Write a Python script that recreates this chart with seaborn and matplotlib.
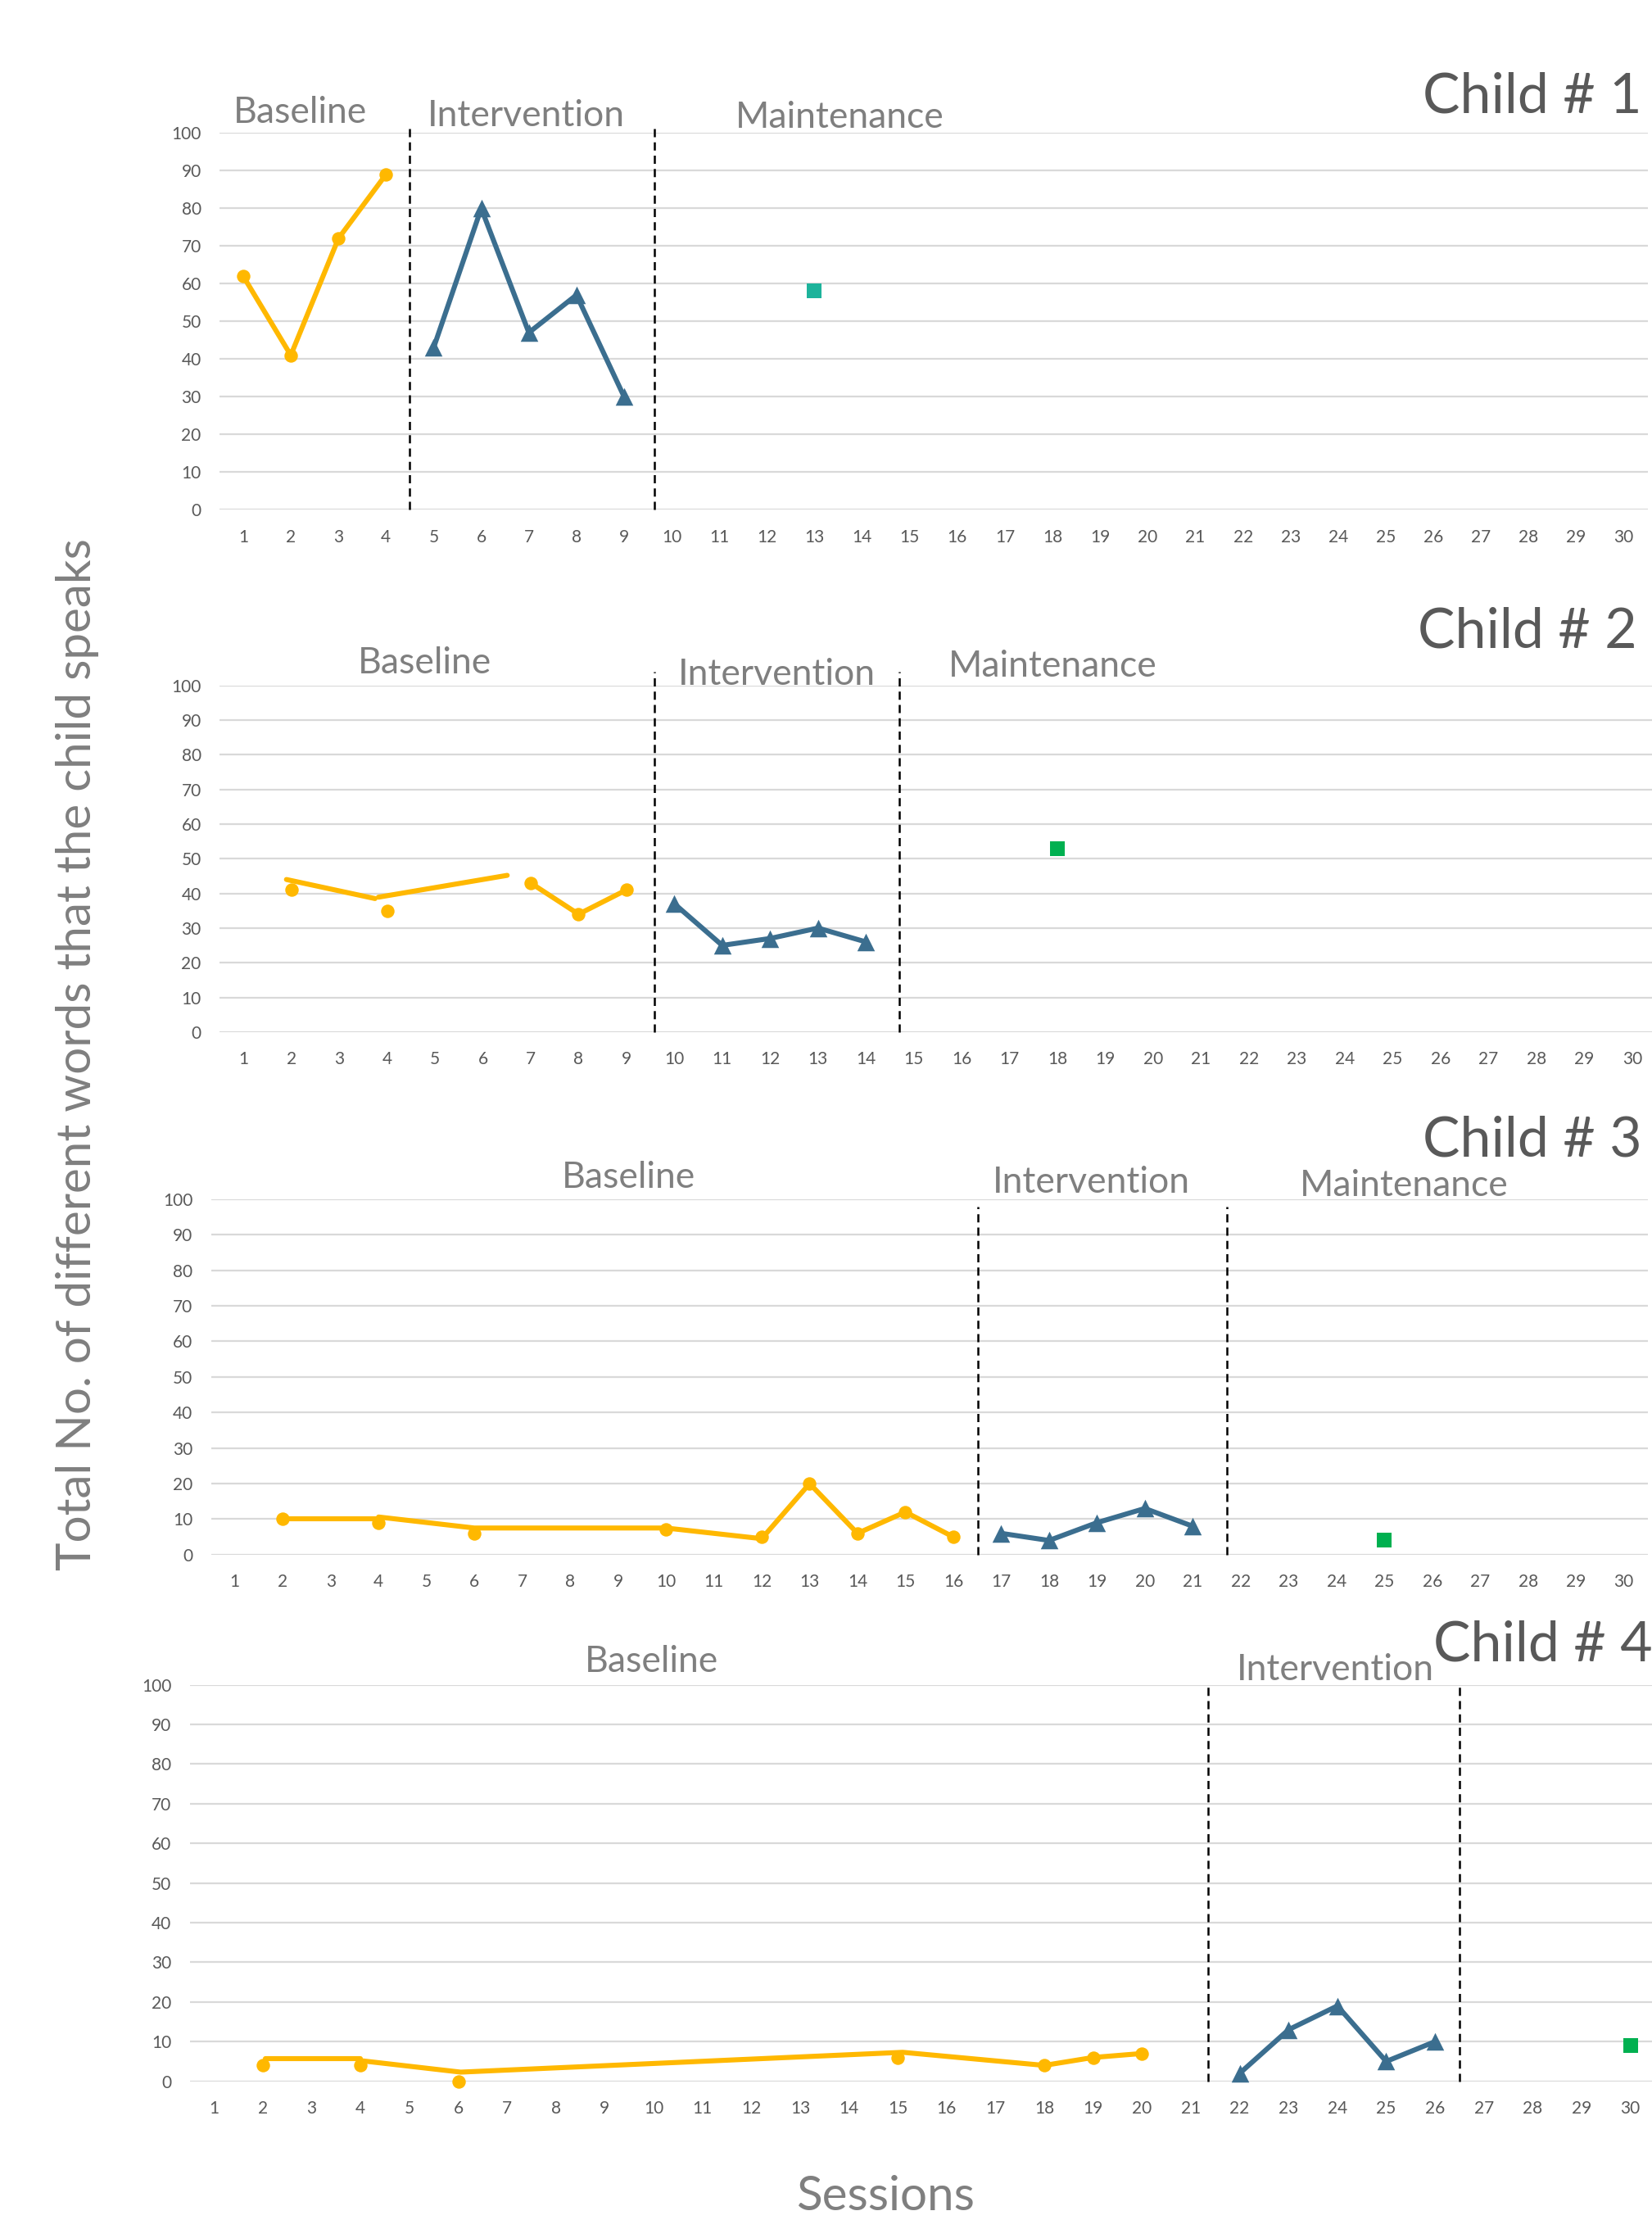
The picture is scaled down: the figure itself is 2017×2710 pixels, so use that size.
import matplotlib
matplotlib.use("Agg")
import matplotlib.pyplot as plt
import seaborn as sns
import pandas as pd

# ---------------------------------------------------------------- data
sessions = list(range(1, 31))
y_ticks = list(range(0, 101, 10))

children = ["Child # 1", "Child # 2", "Child # 3", "Child # 4"]

# Child 1
c1_base_x = [1, 2, 3, 4]
c1_base_y = [62, 41, 72, 89]
c1_base_line_x = [[1, 2, 3, 4]]
c1_base_line_y = [[62, 41, 72, 89]]
c1_int_x = [5, 6, 7, 8, 9]
c1_int_y = [43, 80, 47, 57, 30]
c1_maint_x = [13]
c1_maint_y = [58]
c1_phase_changes = [4.5, 9.63]

# Child 2
c2_base_x = [2, 4, 7, 8, 9]
c2_base_y = [41, 35, 43, 34, 41]
c2_base_line_x = [[1.9, 3.75], [3.82, 6.51], [7, 8, 9]]
c2_base_line_y = [[44, 38.5], [38.9, 45.2], [43, 34, 41]]
c2_int_x = [10, 11, 12, 13, 14]
c2_int_y = [37, 25, 27, 30, 26]
c2_maint_x = [18]
c2_maint_y = [53]
c2_phase_changes = [9.58, 14.7]

# Child 3
c3_base_x = [2, 4, 6, 10, 12, 13, 14, 15, 16]
c3_base_y = [10, 9, 6, 7, 5, 20, 6, 12, 5]
c3_base_line_x = [[2, 4], [4, 6, 10, 12, 13, 14, 15, 16]]
c3_base_line_y = [[10, 10], [10.6, 7.5, 7.5, 4.5, 20, 6, 12, 5]]
c3_int_x = [17, 18, 19, 20, 21]
c3_int_y = [6, 4, 9, 13, 8]
c3_maint_x = [25]
c3_maint_y = [4]
c3_phase_changes = [16.52, 21.72]

# Child 4
c4_base_x = [2, 4, 6, 15, 18, 19, 20]
c4_base_y = [4, 4, 0, 6, 4, 6, 7]
c4_base_line_x = [[2.05, 4], [4, 6.05, 15.1, 18, 19, 20]]
c4_base_line_y = [[5.7, 5.7], [5.2, 2.3, 7.3, 4, 6, 7]]
c4_int_x = [22, 23, 24, 25, 26]
c4_int_y = [2, 13, 19, 5, 10]
c4_maint_x = [30]
c4_maint_y = [9]
c4_phase_changes = [21.36, 26.5]

phase_names = ["Baseline", "Intervention", "Maintenance"]

# ---------------------------------------------------------------- style
GOLD = "#FFB800"
BLUE = "#3B6E8F"
TEAL = "#1DB39B"
GREEN = "#00B050"
GRID = "#D9D9D9"
TICK_C = "#595959"
LABEL_C = "#7F7F7F"
TITLE_C = "#595959"

sns.set_theme(style="white")
plt.rcParams["font.family"] = ["Lato", "DejaVu Sans"]

fig = plt.figure(figsize=(20.17, 27.10), dpi=100)

# axes rectangles [left, bottom, width, height] in figure fractions
rects = [
    [0.1328, 0.7704, 0.8646, 0.1697],
    [0.1328, 0.5351, 0.8697, 0.1562],
    [0.1277, 0.2997, 0.8697, 0.1601],
    [0.1148, 0.0625, 0.8869, 0.1786],
]

panels = [
    dict(bx=c1_base_x, by=c1_base_y, lx=c1_base_line_x, ly=c1_base_line_y,
         ix=c1_int_x, iy=c1_int_y, mx=c1_maint_x, my=c1_maint_y,
         mcol=TEAL, pc=c1_phase_changes, ptop=101.5,
         labels=[(2.19, 105.3), (6.95, 104.6), (13.53, 104.2)],
         title_y=109.6),
    dict(bx=c2_base_x, by=c2_base_y, lx=c2_base_line_x, ly=c2_base_line_y,
         ix=c2_int_x, iy=c2_int_y, mx=c2_maint_x, my=c2_maint_y,
         mcol=GREEN, pc=c2_phase_changes, ptop=104,
         labels=[(4.78, 106.3), (12.14, 103.1), (17.9, 105.5)],
         title_y=115.3),
    dict(bx=c3_base_x, by=c3_base_y, lx=c3_base_line_x, ly=c3_base_line_y,
         ix=c3_int_x, iy=c3_int_y, mx=c3_maint_x, my=c3_maint_y,
         mcol=GREEN, pc=c3_phase_changes, ptop=98,
         labels=[(9.22, 106.2), (18.88, 104.6), (25.42, 103.8)],
         title_y=116.5),
    dict(bx=c4_base_x, by=c4_base_y, lx=c4_base_line_x, ly=c4_base_line_y,
         ix=c4_int_x, iy=c4_int_y, mx=c4_maint_x, my=c4_maint_y,
         mcol=GREEN, pc=c4_phase_changes, ptop=100,
         labels=[(9.96, 105.8), (23.96, 103.7), None],
         title_y=110.0),
]

title_right = [30.38, 30.1, 30.38, 30.45]

for k, (rect, p) in enumerate(zip(rects, panels)):
    ax = fig.add_axes(rect)
    ax.set_xlim(0.5, 30.5)
    ax.set_ylim(0, 100)

    # horizontal gridlines
    ax.set_yticks(y_ticks)
    ax.set_xticks(sessions)
    ax.yaxis.grid(True, color=GRID, linewidth=1.6)
    ax.xaxis.grid(False)
    ax.set_axisbelow(True)
    for s in ax.spines.values():
        s.set_visible(False)
    ax.tick_params(axis="both", length=0, labelsize=15, labelcolor=TICK_C)
    ax.tick_params(axis="y", pad=16)
    ax.tick_params(axis="x", pad=17)

    # baseline path(s)
    for sx, sy in zip(p["lx"], p["ly"]):
        seg = pd.DataFrame({"session": sx, "words": sy})
        sns.lineplot(data=seg, x="session", y="words", ax=ax, color=GOLD,
                     linewidth=4.4, estimator=None, sort=False)
    base = pd.DataFrame({"session": p["bx"], "words": p["by"]})
    sns.scatterplot(data=base, x="session", y="words", ax=ax, color=GOLD,
                    marker="o", s=140, edgecolor=GOLD, linewidth=0, zorder=4,
                    clip_on=False)

    # intervention
    inter = pd.DataFrame({"session": p["ix"], "words": p["iy"]})
    sns.lineplot(data=inter, x="session", y="words", ax=ax, color=BLUE,
                 linewidth=4.4, estimator=None, sort=False)
    sns.scatterplot(data=inter, x="session", y="words", ax=ax, color=BLUE,
                    marker="^", s=240, edgecolor=BLUE, linewidth=0, zorder=4,
                    clip_on=False)

    # maintenance
    maint = pd.DataFrame({"session": p["mx"], "words": p["my"]})
    sns.scatterplot(data=maint, x="session", y="words", ax=ax, color=p["mcol"],
                    marker="s", s=170, edgecolor=p["mcol"], linewidth=0,
                    zorder=4, clip_on=False)

    # phase change lines
    ax.vlines(p["pc"], 0, p["ptop"], colors="black", linestyles=(0, (4, 2.5)),
              linewidth=1.8, clip_on=False, zorder=3)

    # phase labels
    for name, pos in zip(phase_names, p["labels"]):
        if pos is None:
            continue
        ax.text(pos[0], pos[1], name, ha="center", va="center", fontsize=32,
                color=LABEL_C, clip_on=False)

    ax.text(title_right[k], p["title_y"], children[k], ha="right",
            va="center", fontsize=49, color=TITLE_C, clip_on=False)

    ax.set_xlabel("")
    ax.set_ylabel("")

fig.text(0.047, 0.525, "Total No. of different words that the child speaks",
         rotation=90, ha="center", va="center", fontsize=42, color=LABEL_C)
fig.text(0.536, 0.0105, "Sessions", ha="center", va="center", fontsize=42,
         color=LABEL_C)

fig.savefig("out.png", dpi=100)
